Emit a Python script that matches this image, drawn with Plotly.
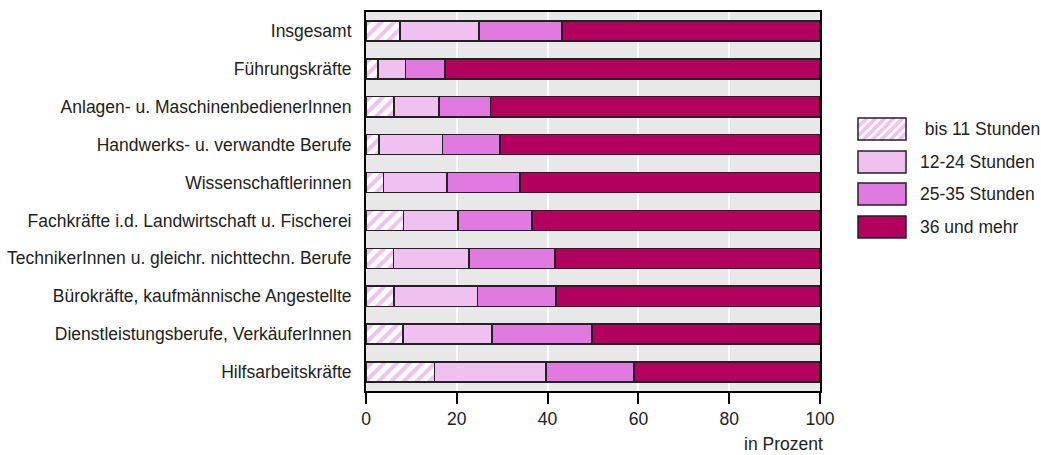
import plotly.graph_objects as go

categories = [
    "Insgesamt",
    "Führungskräfte",
    "Anlagen- u. MaschinenbedienerInnen",
    "Handwerks- u. verwandte Berufe",
    "Wissenschaftlerinnen",
    "Fachkräfte i.d. Landwirtschaft u. Fischerei",
    "TechnikerInnen u. gleichr. nichttechn. Berufe",
    "Bürokräfte, kaufmännische Angestellte",
    "Dienstleistungsberufe, VerkäuferInnen",
    "Hilfsarbeitskräfte",
]
series_names = ["bis 11 Stunden", "12-24 Stunden", "25-35 Stunden", "36 und mehr"]
bis_11 = [7.5, 2.6, 6.2, 2.9, 3.9, 8.3, 6.1, 6.2, 8.2, 15.1]
h12_24 = [17.4, 6.1, 9.9, 13.9, 13.9, 12.0, 16.6, 18.4, 19.6, 24.5]
h25_35 = [18.3, 8.7, 11.3, 12.7, 16.1, 16.3, 18.9, 17.2, 22.0, 19.4]
h36_plus = [56.8, 82.6, 72.6, 70.5, 66.1, 63.4, 58.4, 58.2, 50.2, 41.0]
x_ticks = [0, 20, 40, 60, 80, 100]

FONT = "Liberation Sans, Arial, sans-serif"
FS = 17.5
TXT = "#222222"
C_HATCH = "#f0c0f0"
C_LIGHT = "#f0c0f0"
C_MID = "#e07ae0"
C_DARK = "#b2005e"
OUTLINE = dict(color="#222222", width=1.5)

W, H = 1041, 455
L, R, T, B = 366, 221, 12, 64

fig = go.Figure()
fig.add_trace(go.Bar(
    y=categories, x=bis_11, orientation="h", name=series_names[0],
    marker=dict(color="white", line=OUTLINE,
                pattern=dict(shape="/", fgcolor=C_HATCH, bgcolor="white",
                             size=9, solidity=0.45, fillmode="replace")),
    width=0.53, showlegend=False))
for vals, name, col in [(h12_24, series_names[1], C_LIGHT),
                        (h25_35, series_names[2], C_MID),
                        (h36_plus, series_names[3], C_DARK)]:
    fig.add_trace(go.Bar(y=categories, x=vals, orientation="h", name=name,
                         marker=dict(color=col, line=OUTLINE),
                         width=0.53, showlegend=False))

# custom legend (pixel-sized keys anchored to the plot's top-right corner)
shapes = []
annotations = []
key_x0, key_x1 = 858 - (W - R), 906 - (W - R)
key_tops = [118, 151, 183, 216]
key_h = 22
fills = ["white", C_LIGHT, C_MID, C_DARK]
for i, (top, name, fc) in enumerate(zip(key_tops, series_names, fills)):
    y0 = -(top - T)
    y1 = y0 - key_h
    shapes.append(dict(type="rect", xref="paper", yref="paper",
                       xsizemode="pixel", ysizemode="pixel", xanchor=1, yanchor=1,
                       x0=key_x0, x1=key_x1, y0=y0, y1=y1,
                       fillcolor=fc, line=dict(width=0), layer="above"))
    if i == 0:
        bw = key_x1 - key_x0
        spacing = 9
        c = -key_h
        while c < bw:
            xa = max(c, 0); ya = xa - c
            xb = min(c + key_h, bw); yb = xb - c
            if xb > xa:
                shapes.append(dict(type="line", xref="paper", yref="paper",
                                   xsizemode="pixel", ysizemode="pixel", xanchor=1, yanchor=1,
                                   x0=key_x0 + xa, x1=key_x0 + xb, y0=y1 + ya, y1=y1 + yb,
                                   line=dict(color=C_HATCH, width=3.5), layer="above"))
            c += spacing
    shapes.append(dict(type="rect", xref="paper", yref="paper",
                       xsizemode="pixel", ysizemode="pixel", xanchor=1, yanchor=1,
                       x0=key_x0, x1=key_x1, y0=y0, y1=y1,
                       fillcolor="rgba(0,0,0,0)", line=dict(color="#222222", width=1.5),
                       layer="above"))
    text_x = (918 - L) / (W - L - R)
    text_y = (H - B - (top + key_h / 2)) / (H - T - B)
    annotations.append(dict(xref="paper", yref="paper", x=text_x, y=text_y,
                            xanchor="left", yanchor="middle", showarrow=False,
                            text=(" " if i == 0 else "") + name,
                            font=dict(family=FONT, size=FS, color=TXT)))

annotations.append(dict(xref="paper", yref="paper", x=(825 - L) / (W - L - R),
                        y=-(444 - (H - B)) / (H - T - B),
                        xanchor="right", yanchor="middle", showarrow=False,
                        text="in Prozent", font=dict(family=FONT, size=FS, color=TXT)))

fig.update_layout(
    width=W, height=H,
    margin=dict(l=L, r=R, t=T, b=B, pad=0, autoexpand=False),
    barmode="stack",
    plot_bgcolor="#e8e8e8",
    paper_bgcolor="white",
    font=dict(family=FONT, size=FS, color=TXT),
    shapes=shapes,
    annotations=annotations,
    showlegend=False,
)
fig.update_xaxes(range=[0, 100], tickvals=x_ticks, ticks="outside", ticklen=11,
                 tickwidth=2, tickcolor="black", showline=True, linecolor="black",
                 linewidth=2, mirror=True, showgrid=True, gridcolor="white",
                 gridwidth=2, zeroline=False, automargin=False,
                 tickfont=dict(family=FONT, size=FS, color=TXT), fixedrange=True)
fig.update_yaxes(categoryorder="array", categoryarray=categories, autorange="reversed",
                 showline=True, linecolor="black", linewidth=2, mirror=True,
                 showgrid=False, ticks="", ticklabelstandoff=9, automargin=False,
                 tickfont=dict(family=FONT, size=FS, color=TXT), fixedrange=True)

fig.write_html("out.html", config={"displayModeBar": False},
               post_script="document.body.style.margin='0px';document.body.style.overflow='hidden';")
